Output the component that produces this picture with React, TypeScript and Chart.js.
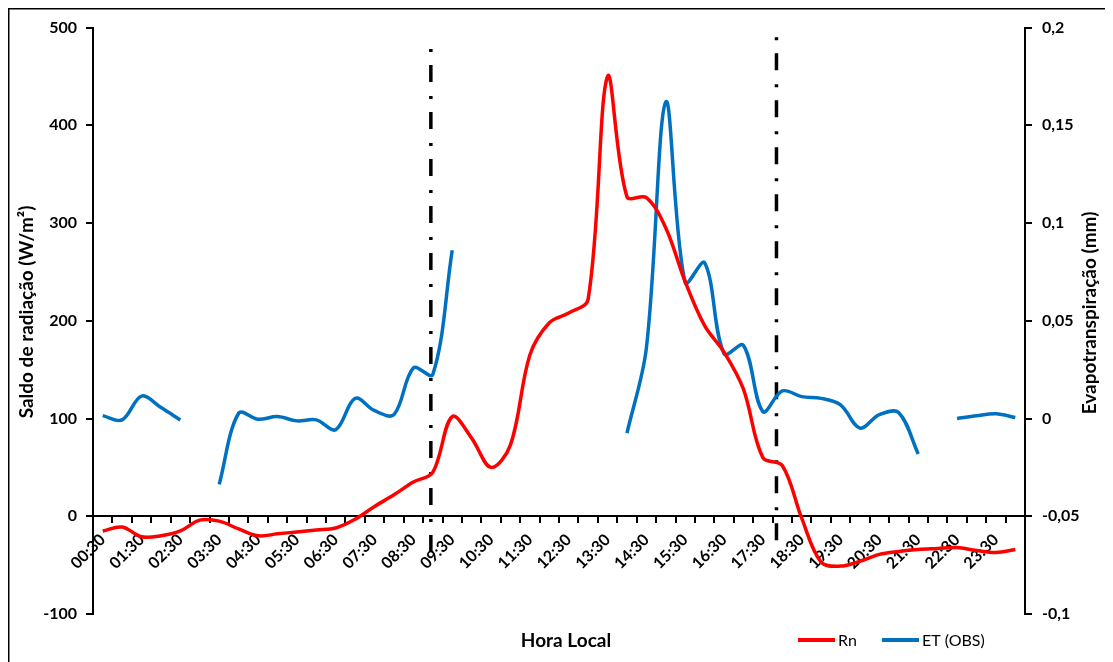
import React, { useEffect, useRef } from "react";
import { Chart, registerables } from "chart.js";

Chart.register(...registerables);

// Half-hourly observation times
const hours = [
  "00:30", "01:00", "01:30", "02:00", "02:30", "03:00", "03:30", "04:00",
  "04:30", "05:00", "05:30", "06:00", "06:30", "07:00", "07:30", "08:00",
  "08:30", "09:00", "09:30", "10:00", "10:30", "11:00", "11:30", "12:00",
  "12:30", "13:00", "13:30", "14:00", "14:30", "15:00", "15:30", "16:00",
  "16:30", "17:00", "17:30", "18:00", "18:30", "19:00", "19:30", "20:00",
  "20:30", "21:00", "21:30", "22:00", "22:30", "23:00", "23:30", "24:00",
];

// Net radiation, W/m²
const rnValues = [
  -15, -11, -21, -20, -15, -4, -5, -13,
  -20, -18, -16, -14, -12, -3, 10, 22,
  35, 45, 102, 80, 50, 73, 165, 198,
  208, 222, 450, 327, 326, 295, 240, 195,
  168, 130, 60, 52, -2, -47, -51, -46,
  -39, -36, -34, -33, -32, -35, -37, -34,
];

// Observed evapotranspiration, mm (null = no measurement)
const etValues = [
  0.0015, -0.0007, 0.0115, 0.0056, -0.0007, null, -0.0337, 0.0027,
  -0.0004, 0.001, -0.0012, -0.0007, -0.0057, 0.0103, 0.004, 0.002,
  0.0259, 0.0225, 0.0861, null, null, null, null, null,
  null, null, null, -0.0075, 0.036, 0.162, 0.0695, 0.0797,
  0.0331, 0.0374, 0.0036, 0.0141, 0.0112, 0.0103, 0.007, -0.0049,
  0.002, 0.003, -0.0181, null, 0, 0.0014, 0.0024, 0.0005,
];

const rightTickLabels = ["-0,1", "-0,05", "0", "0,05", "0,1", "0,15", "0,2"];

// Sunrise / sunset markers and their vertical extent on the W/m² axis
const transitionTimes = ["08:57", "17:51"];
const transitionSpans = [
  [-41, 478],
  [-28, 490],
];

const leftTitle = "Saldo de radiação (W/m²)";
const rightTitle = "Evapotranspiração (mm)";
const bottomTitle = "Hora Local";

const FONT = "Lato, 'Open Sans', sans-serif";

const timeToIndex = (t: string) => {
  const [h, m] = t.split(":").map(Number);
  return (h * 60 + m - 30) / 30;
};

const transitionLines = {
  id: "transitionLines",
  beforeDatasetsDraw(chart: any) {
    const { ctx, scales } = chart;
    const x = scales.x;
    const y = scales.y;
    ctx.save();
    ctx.strokeStyle = "#000";
    ctx.lineWidth = 3.5;
    ctx.lineCap = "butt";
    ctx.setLineDash([3, 13, 17, 14]);
    transitionTimes.forEach((t, i) => {
      const px = x.getPixelForValue(timeToIndex(t));
      const [lo, hi] = transitionSpans[i];
      ctx.beginPath();
      ctx.moveTo(px, y.getPixelForValue(hi));
      ctx.lineTo(px, y.getPixelForValue(lo));
      ctx.stroke();
    });
    ctx.restore();
  },
};

const decorations = {
  id: "decorations",
  beforeDraw(chart: any) {
    const { ctx, width, height } = chart;
    ctx.save();
    ctx.fillStyle = "#fff";
    ctx.fillRect(0, 0, width, height);
    ctx.strokeStyle = "#000";
    ctx.lineWidth = 1.5;
    ctx.strokeRect(0.75, 0.75, width + 20, height + 20);
    ctx.restore();
  },
  afterDraw(chart: any) {
    const { ctx } = chart;
    ctx.save();
    ctx.fillStyle = "#000";
    ctx.textAlign = "center";
    ctx.textBaseline = "middle";

    // axis titles
    ctx.font = `bold 19px ${FONT}`;
    ctx.save();
    ctx.translate(19, 304);
    ctx.rotate(-Math.PI / 2);
    ctx.fillText(leftTitle, 0, 0);
    ctx.restore();

    ctx.save();
    ctx.translate(1082, 305);
    ctx.rotate(-Math.PI / 2);
    ctx.fillText(rightTitle, 0, 0);
    ctx.restore();

    ctx.font = `bold 19px ${FONT}`;
    ctx.fillText(bottomTitle, 558, 633);

    // legend
    const items = chart.data.datasets;
    const starts = [790, 874];
    ctx.font = `16px ${FONT}`;
    ctx.textAlign = "left";
    items.forEach((ds: any, i: number) => {
      const x0 = starts[i];
      ctx.strokeStyle = ds.borderColor;
      ctx.lineWidth = 4;
      ctx.beginPath();
      ctx.moveTo(x0, 632);
      ctx.lineTo(x0 + 37, 632);
      ctx.stroke();
      ctx.fillText(ds.label, x0 + 40, 633);
    });
    ctx.restore();
  },
};

export default function App() {
  const canvasRef = useRef<HTMLCanvasElement | null>(null);

  useEffect(() => {
    document.documentElement.style.overflow = "hidden";
    document.body.style.overflow = "hidden";
    const canvas = canvasRef.current;
    if (!canvas) return;

    const chart = new Chart(canvas, {
      type: "line",
      data: {
        labels: hours,
        datasets: [
          {
            label: "Rn",
            data: rnValues,
            yAxisID: "y",
            borderColor: "#FF0000",
            backgroundColor: "#FF0000",
            borderWidth: 3.5,
            pointRadius: 0,
            tension: 0.35,
            spanGaps: false,
          },
          {
            label: "ET (OBS)",
            data: etValues,
            yAxisID: "y1",
            borderColor: "#0070C0",
            backgroundColor: "#0070C0",
            borderWidth: 3.5,
            pointRadius: 0,
            tension: 0.35,
            spanGaps: false,
          },
        ],
      },
      options: {
        animation: false,
        responsive: false,
        devicePixelRatio: 1,
        layout: { padding: { top: 16, bottom: 48, left: 0, right: 0 } },
        plugins: {
          legend: { display: false },
          tooltip: { enabled: false },
        },
        scales: {
          x: {
            type: "category",
            offset: true,
            position: { y: 0 },
            grid: {
              display: true,
              drawOnChartArea: false,
              drawTicks: true,
              tickLength: 6,
              color: "#000",
              lineWidth: 2,
              offset: true,
            },
            border: { display: true, color: "#000", width: 2 },
            ticks: {
              autoSkip: false,
              maxRotation: 45,
              minRotation: 45,
              padding: 8,
              color: "#000",
              font: { family: FONT, size: 16, weight: "bold" },
              callback: (_v: any, i: number) => (i % 2 === 0 ? hours[i] : ""),
            },
          },
          y: {
            position: "left",
            min: -100,
            max: 500,
            grid: {
              drawOnChartArea: false,
              drawTicks: true,
              tickLength: 7,
              color: "#000",
              lineWidth: 2,
            },
            border: { display: true, color: "#000", width: 2 },
            ticks: {
              stepSize: 100,
              padding: 9,
              color: "#000",
              font: { family: FONT, size: 16, weight: "bold" },
            },
            afterFit: (s: any) => {
              s.width = 85;
            },
          },
          y1: {
            position: "right",
            min: -0.1,
            max: 0.2,
            grid: {
              drawOnChartArea: false,
              drawTicks: true,
              tickLength: 7,
              color: "#000",
              lineWidth: 2,
            },
            border: { display: true, color: "#000", width: 2 },
            ticks: {
              stepSize: 0.05,
              padding: 10,
              color: "#000",
              font: { family: FONT, size: 16, weight: "bold" },
              callback: (_v: any, i: number) => rightTickLabels[i],
            },
            afterFit: (s: any) => {
              s.width = 88;
            },
          },
        },
      },
      plugins: [decorations, transitionLines],
    });

    return () => chart.destroy();
  }, []);

  return (
    <canvas
      ref={canvasRef}
      width={1105}
      height={654}
      style={{ display: "block", width: 1105, height: 654 }}
    />
  );
}
